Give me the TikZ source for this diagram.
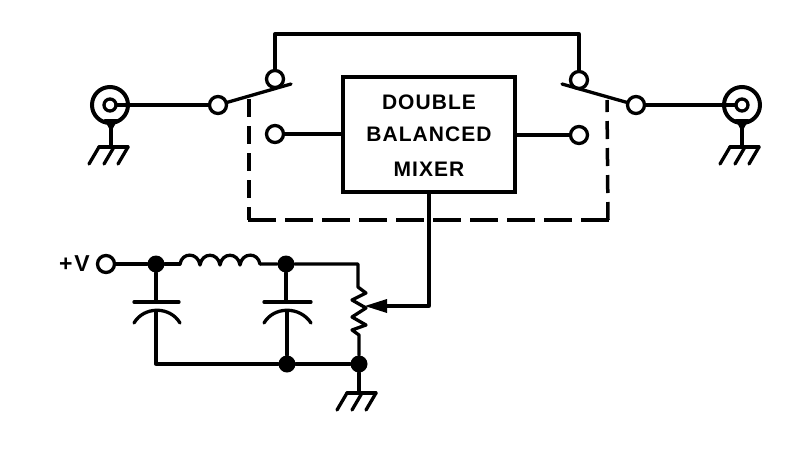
\documentclass[tikz,border=0pt]{standalone}
\usepackage{fontspec}
\setmainfont{Liberation Sans}
\usetikzlibrary{positioning,arrows.meta}

\tikzset{
  wire/.style={line width=3.3pt,line join=round,line cap=round},
  linkv/.style={line width=3.5pt,dash pattern=on 18pt off 9pt},
  linkh/.style={line width=3.5pt,dash pattern=on 28pt off 9pt},
  terminal/.style={circle,draw,line width=3.3pt,fill=white,minimum size=17pt,inner sep=0pt},
  coax/.style={circle,draw,line width=4pt,minimum size=36pt,inner sep=0pt},
  pin/.style={circle,draw,line width=3.3pt,minimum size=12pt,inner sep=0pt},
  junction/.style={circle,fill=black,minimum size=17pt,inner sep=0pt},
  label/.style={font=\fontsize{21}{21}\selectfont\bfseries\addfontfeature{LetterSpace=5},inner sep=0pt},
  supply/.style={font=\fontsize{23}{23}\selectfont\bfseries\addfontfeature{LetterSpace=8},inner sep=0pt},
  gnd/.pic={
    \draw[wire] (-12,0) -- (17,0);
    \foreach \x in {-12,3,17} {
      \draw[wire] (\x,0) -- (\x-10,17);
    }
  }
}

\begin{document}
\begin{tikzpicture}[x=1pt,y=-1pt]
  \useasboundingbox (0,0) rectangle (793,469);

  % mixer
  \node[draw,line width=3.3pt,minimum width=172pt,minimum height=115pt,inner sep=0pt] (mixer) at (429,134.5) {};
  \node[label] (l1) at (429,102.5) {DOUBLE};
  \node[label] (l2) at (429,134.5) {BALANCED};
  \node[label] (l3) at (429,169) {MIXER};

  % left coax and switch
  \node[coax] (coaxl) at (110,105) {};
  \node[pin] (pinl) at (110,105) {};
  \node[terminal] (sl) at (218,105) {};
  \node[terminal] (tl) at (275,79) {};
  \node[terminal] (bl) at (275,134) {};
  \coordinate (arml) at (291,84);
  \coordinate (tapl) at (249,99);

  % right coax and switch
  \node[coax] (coaxr) at (742,105) {};
  \node[pin] (pinr) at (742,105) {};
  \node[terminal] (sr) at (636,105) {};
  \node[terminal] (tr) at (579,80) {};
  \node[terminal] (br) at (579,135) {};
  \coordinate (armr) at (562,84);
  \coordinate (tapr) at (607,100);

  \draw[wire] (pinl) -- (sl);
  \draw[wire] (sl) -- (arml);
  \draw[wire] (tl) -- (275,34) -| (tr);
  \draw[wire] (bl) -- (mixer.west |- bl);
  \draw[wire] (pinr) -- (sr);
  \draw[wire] (sr) -- (armr);
  \draw[wire] (br) -- (mixer.east |- br);

  % ganged switch link
  \draw[linkv] (tapl) -- (249,220);
  \draw[linkh] (248,220) -- (609,220);
  \draw[linkv] (608,220) -- (tapr);

  % coax grounds
  \coordinate (gl) at (111,147);
  \coordinate (gr) at (742,147);
  \draw[wire] (coaxl.south -| gl) -- (gl);
  \draw[wire] (coaxr.south) -- (gr);
  \fill (104,119) -- (118,119) -- (111,132) -- cycle;
  \fill (735,119) -- (749,119) -- (742,132) -- cycle;
  \pic at (gl) {gnd};
  \pic at (gr) {gnd};

  % supply filter
  \node[terminal] (vcc) at (106,264) {};
  \node[supply,left=6pt of vcc] (vlabel) {+V};
  \node[junction] (j1) at (156,264) {};
  \node[junction] (j2) at (286,264) {};
  \node[junction] (j3) at (287,364) {};
  \node[junction] (j4) at (359,364) {};
  \coordinate (lin) at (180,264);
  \coordinate (lout) at (260,264);
  \coordinate (rtop) at (358,264);
  \coordinate (gb) at (359,393);
  \coordinate (wiper) at (365,306);

  \draw[wire] (vcc) -- (j1) -- (lin);
  \draw[wire] (lin) .. controls (182,252) and (198,252) .. (200,265)
    .. controls (202,252) and (218,252) .. (220,265)
    .. controls (222,252) and (238,252) .. (240,265)
    .. controls (242,252) and (258,252) .. (lout);
  \draw[wire] (lout) -- (j2) -- (rtop) -- (358,287)
    -- (366,293) -- (352,300) -- (366,308) -- (352,317) -- (366,325) -- (352,330) -- (359,335)
    -- (j4);
  \draw[wire] (j1) -- (156,302);
  \draw[wire] (134,302) -- (179,302);
  \draw[wire] (134,323) .. controls (144,306) and (170,306) .. (180,323);
  \draw[wire] (156,312) -- (156,364) -- (j3);
  \draw[wire] (j2) -- (286,302);
  \draw[wire] (264,302) -- (311,302);
  \draw[wire] (264,323) .. controls (274,306) and (300,306) .. (311,323);
  \draw[wire] (287,312) -- (j3);
  \draw[wire] (j3) -- (j4);
  \draw[wire] (j4) -- (gb);
  \pic at (gb) {gnd};

  % bias to the mixer
  \draw[wire] (mixer.south) -- (429,306) -- (385,306);
  \fill (wiper) -- (387,299) -- (387,313) -- cycle;
\end{tikzpicture}
\end{document}
